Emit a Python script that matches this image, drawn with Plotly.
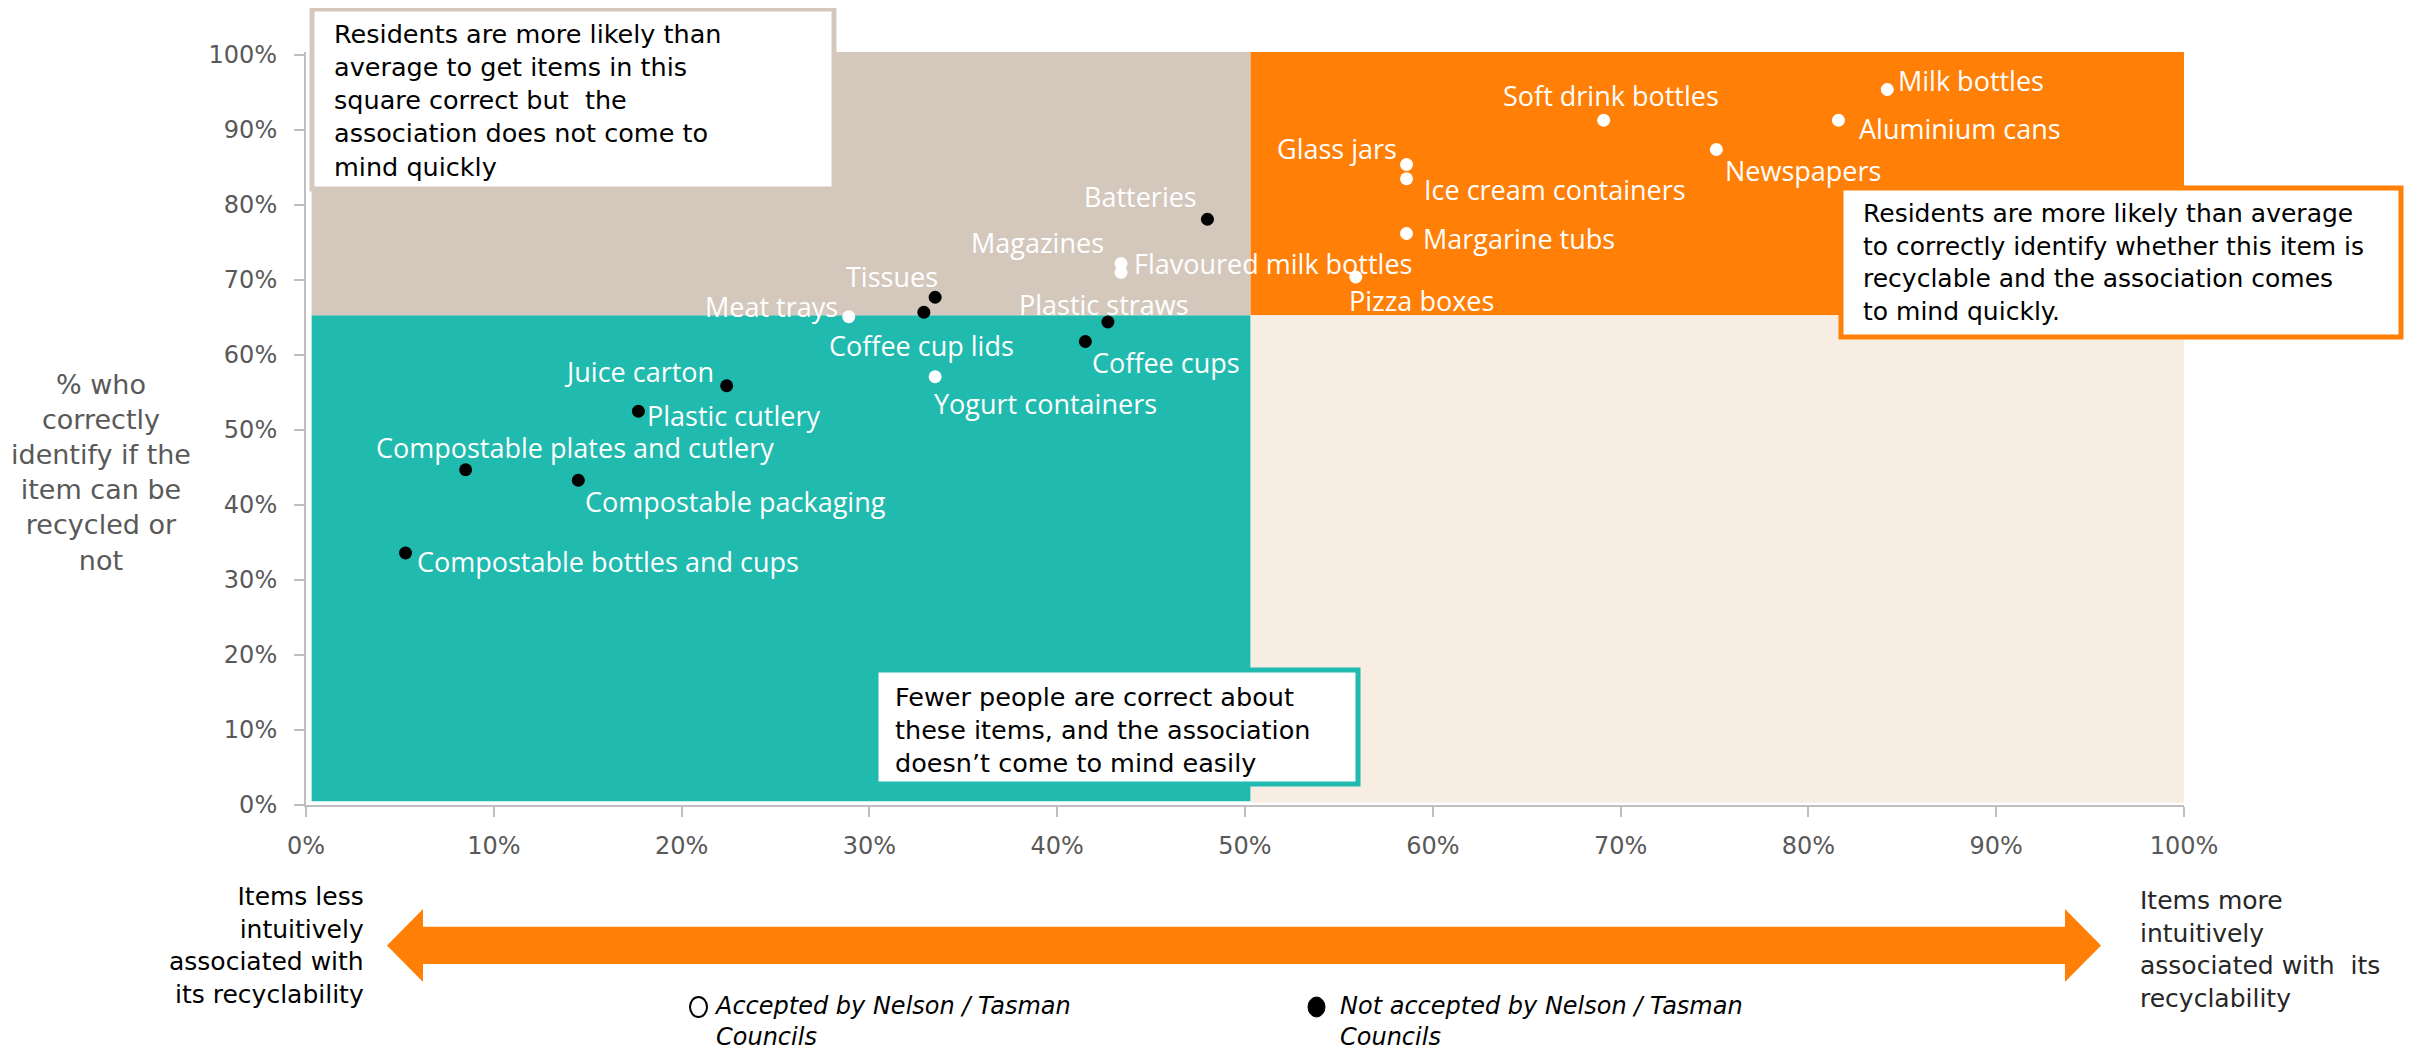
import plotly.graph_objects as go

# ---------------- data ----------------
accepted_items = ["Milk bottles", "Aluminium cans", "Soft drink bottles", "Newspapers",
                  "Glass jars", "Ice cream containers", "Margarine tubs", "Pizza boxes",
                  "Magazines", "Flavoured milk bottles", "Meat trays", "Yogurt containers"]
accepted_x = [84.2, 81.6, 69.1, 75.1, 58.6, 58.6, 58.6, 55.9, 43.4, 43.4, 28.9, 33.5]
accepted_y = [95.4, 91.3, 91.3, 87.4, 85.4, 83.5, 76.2, 70.4, 72.2, 71.0, 65.1, 57.1]

rejected_items = ["Batteries", "Tissues", "Coffee cup lids", "Plastic straws", "Coffee cups",
                  "Juice carton", "Plastic cutlery", "Compostable plates and cutlery",
                  "Compostable packaging", "Compostable bottles and cups"]
rejected_x = [48.0, 33.5, 32.9, 42.7, 41.5, 22.4, 17.7, 8.5, 14.5, 5.3]
rejected_y = [78.1, 67.7, 65.7, 64.4, 61.8, 55.9, 52.5, 44.7, 43.3, 33.6]

avg_x = 50.3   # average association (quadrant split)
avg_y = 65.3   # average correctness (quadrant split)

tick_vals = [0, 10, 20, 30, 40, 50, 60, 70, 80, 90, 100]
tick_text = ["0%", "10%", "20%", "30%", "40%", "50%", "60%", "70%", "80%", "90%", "100%"]

legend_labels = ["Accepted by Nelson / Tasman<br>Councils",
                 "Not accepted by Nelson / Tasman<br>Councils"]

# ---------------- label placement (styling) ----------------
label_pos = {
    "Milk bottles": ("left", 9, 9),
    "Aluminium cans": ("left", 19, -8),
    "Soft drink bottles": ("center", 7, 25),
    "Newspapers": ("left", 7, -21),
    "Glass jars": ("right", -8, 16),
    "Ice cream containers": ("left", 15, -11),
    "Margarine tubs": ("left", 14, -5),
    "Pizza boxes": ("left", -9, -23),
    "Magazines": ("right", -15, 21),
    "Flavoured milk bottles": ("left", 11, 9),
    "Meat trays": ("right", -9, 10),
    "Yogurt containers": ("left", -3, -27),
    "Batteries": ("right", -8, 23),
    "Tissues": ("right", 5, 21),
    "Coffee cup lids": ("center", -2, -33),
    "Plastic straws": ("center", -4, 18),
    "Coffee cups": ("left", 5, -21),
    "Juice carton": ("right", -11, 14),
    "Plastic cutlery": ("left", 7, -4),
    "Compostable plates and cutlery": ("left", -92, 22),
    "Compostable packaging": ("left", 5, -21),
    "Compostable bottles and cups": ("left", 9, -8),
}

# page is 2418 x 1061 with an 8px body margin
OFF = 8
W, H = 2418 - 2 * OFF, 1061 - 2 * OFF
ML, MT = 306 - OFF, 52 - OFF
PW, PH = 1878, 753
MR = W - ML - PW
MB = H - MT - PH


def px(x):  # page pixel -> paper x
    return (x - OFF - ML) / PW


def py(y):  # page pixel -> paper y
    return (MT + PH - (y - OFF)) / PH


TEAL = "#21BAAE"
BEIGE = "#D4C8BD"
ORANGE = "#FF7F07"
LIGHT = "#F7EDE3"
GRAY = "#595959"
CG = "DejaVu Sans"
LBL = "Open Sans"

fig = go.Figure()

fig.add_trace(go.Scatter(x=accepted_x, y=accepted_y, mode="markers", name="Accepted",
                         marker=dict(size=13, color="white", line=dict(width=0)),
                         text=accepted_items, hoverinfo="text", showlegend=False))
fig.add_trace(go.Scatter(x=rejected_x, y=rejected_y, mode="markers", name="Not accepted",
                         marker=dict(size=13, color="black", line=dict(width=0)),
                         text=rejected_items, hoverinfo="text", showlegend=False))

shapes = []
# quadrant backgrounds
shapes.append(dict(type="rect", xref="x", yref="y", x0=0.3, x1=avg_x, y0=0.5, y1=avg_y,
                   fillcolor=TEAL, line=dict(width=0), layer="below"))
shapes.append(dict(type="rect", xref="x", yref="y", x0=0.3, x1=avg_x, y0=avg_y, y1=100.4,
                   fillcolor=BEIGE, line=dict(width=0), layer="below"))
shapes.append(dict(type="rect", xref="x", yref="y", x0=avg_x, x1=100, y0=avg_y, y1=100.4,
                   fillcolor=ORANGE, line=dict(width=0), layer="below"))
shapes.append(dict(type="rect", xref="x", yref="y", x0=avg_x, x1=100, y0=0.3, y1=avg_y,
                   fillcolor=LIGHT, line=dict(width=0), layer="below"))


def box(x0, y0, x1, y1, color):
    return dict(type="rect", xref="paper", yref="paper", x0=px(x0), x1=px(x1),
                y0=py(y1), y1=py(y0), fillcolor="white", line=dict(color=color, width=5),
                layer="above")


shapes.append(box(312, 9, 834, 189, BEIGE))
shapes.append(box(1841, 188, 2401, 337, ORANGE))
shapes.append(box(876, 670, 1358, 784, TEAL))

# double-headed arrow
pts = [(387, 945.5), (423, 909), (423, 926.7), (2065, 926.7), (2065, 909), (2101, 945.5),
       (2065, 982), (2065, 964), (423, 964), (423, 982)]
path = "M " + " L ".join(f"{px(a):.5f},{py(b):.5f}" for a, b in pts) + " Z"
shapes.append(dict(type="path", xref="paper", yref="paper", path=path,
                   fillcolor=ORANGE, line=dict(width=0)))

# legend symbols
shapes.append(dict(type="circle", xref="paper", yref="paper", x0=px(690), x1=px(707),
                   y0=py(1017), y1=py(997), fillcolor="white", line=dict(color="black", width=2)))
shapes.append(dict(type="circle", xref="paper", yref="paper", x0=px(1308), x1=px(1325),
                   y0=py(1017), y1=py(997), fillcolor="black", line=dict(color="black", width=1)))

annotations = []
for names, xs, ys in [(accepted_items, accepted_x, accepted_y), (rejected_items, rejected_x, rejected_y)]:
    for n, xv, yv in zip(names, xs, ys):
        anc, dx, dy = label_pos[n]
        annotations.append(dict(x=xv, y=yv, xref="x", yref="y", text=n, showarrow=False,
                                xanchor=anc, yanchor="middle", xshift=dx, yshift=dy,
                                font=dict(family=LBL, size=27, color="white")))


def note(text, x, y, xanchor, align, size=25, color="black"):
    annotations.append(dict(x=px(x), y=py(y), xref="paper", yref="paper", text=text,
                            showarrow=False, xanchor=xanchor, yanchor="middle", align=align,
                            font=dict(family=CG, size=size, color=color)))


note("Residents are more likely than<br>average to get items in this<br>square correct but  the<br>"
     "association does not come to<br>mind quickly", 332, 100, "left", "left", size=25.5)
note("Residents are more likely than average<br>to correctly identify whether this item is<br>"
     "recyclable and the association comes<br>to mind quickly.", 1861, 262.5, "left", "left", size=25)
note("Fewer people are correct about<br>these items, and the association<br>"
     "doesn\u2019t come to mind easily", 893, 730, "left", "left", size=25.5)
note("% who<br>correctly<br>identify if the<br>item can be<br>recycled or<br>not",
     101, 472.5, "center", "center", size=27, color=GRAY)
note("Items less<br>intuitively<br>associated with<br>its recyclability", 366, 945.5, "right", "right")
note("Items more<br>intuitively<br>associated with  its<br>recyclability", 2138, 949.5, "left", "left",
     color="#262626")
note("<i>" + legend_labels[0].replace("<br>", "</i><br><i>") + "</i>", 712, 1021, "left", "left", size=24)
note("<i>" + legend_labels[1].replace("<br>", "</i><br><i>") + "</i>", 1338, 1021, "left", "left", size=24)

fig.update_layout(
    width=W, height=H,
    margin=dict(l=ML, r=MR, t=MT, b=MB, pad=0),
    paper_bgcolor="white", plot_bgcolor="white",
    shapes=shapes, annotations=annotations,
    showlegend=False,
    xaxis=dict(range=[0, 100], tickmode="array", tickvals=tick_vals, ticktext=tick_text,
               showgrid=False, zeroline=False, showline=True, linecolor="#BFBFBF", linewidth=2,
               ticks="outside", ticklen=10, tickcolor="#BFBFBF", tickwidth=2,
               tickfont=dict(family=CG, size=24, color=GRAY), ticklabelstandoff=8,
               fixedrange=True),
    yaxis=dict(range=[0, 100.4], tickmode="array", tickvals=tick_vals, ticktext=tick_text,
               showgrid=False, zeroline=False, showline=True, linecolor="#BFBFBF", linewidth=2,
               ticks="outside", ticklen=10, tickcolor="#BFBFBF", tickwidth=2,
               tickfont=dict(family=CG, size=24, color=GRAY), ticklabelstandoff=12,
               fixedrange=True),
)

fig.write_html("out.html")
